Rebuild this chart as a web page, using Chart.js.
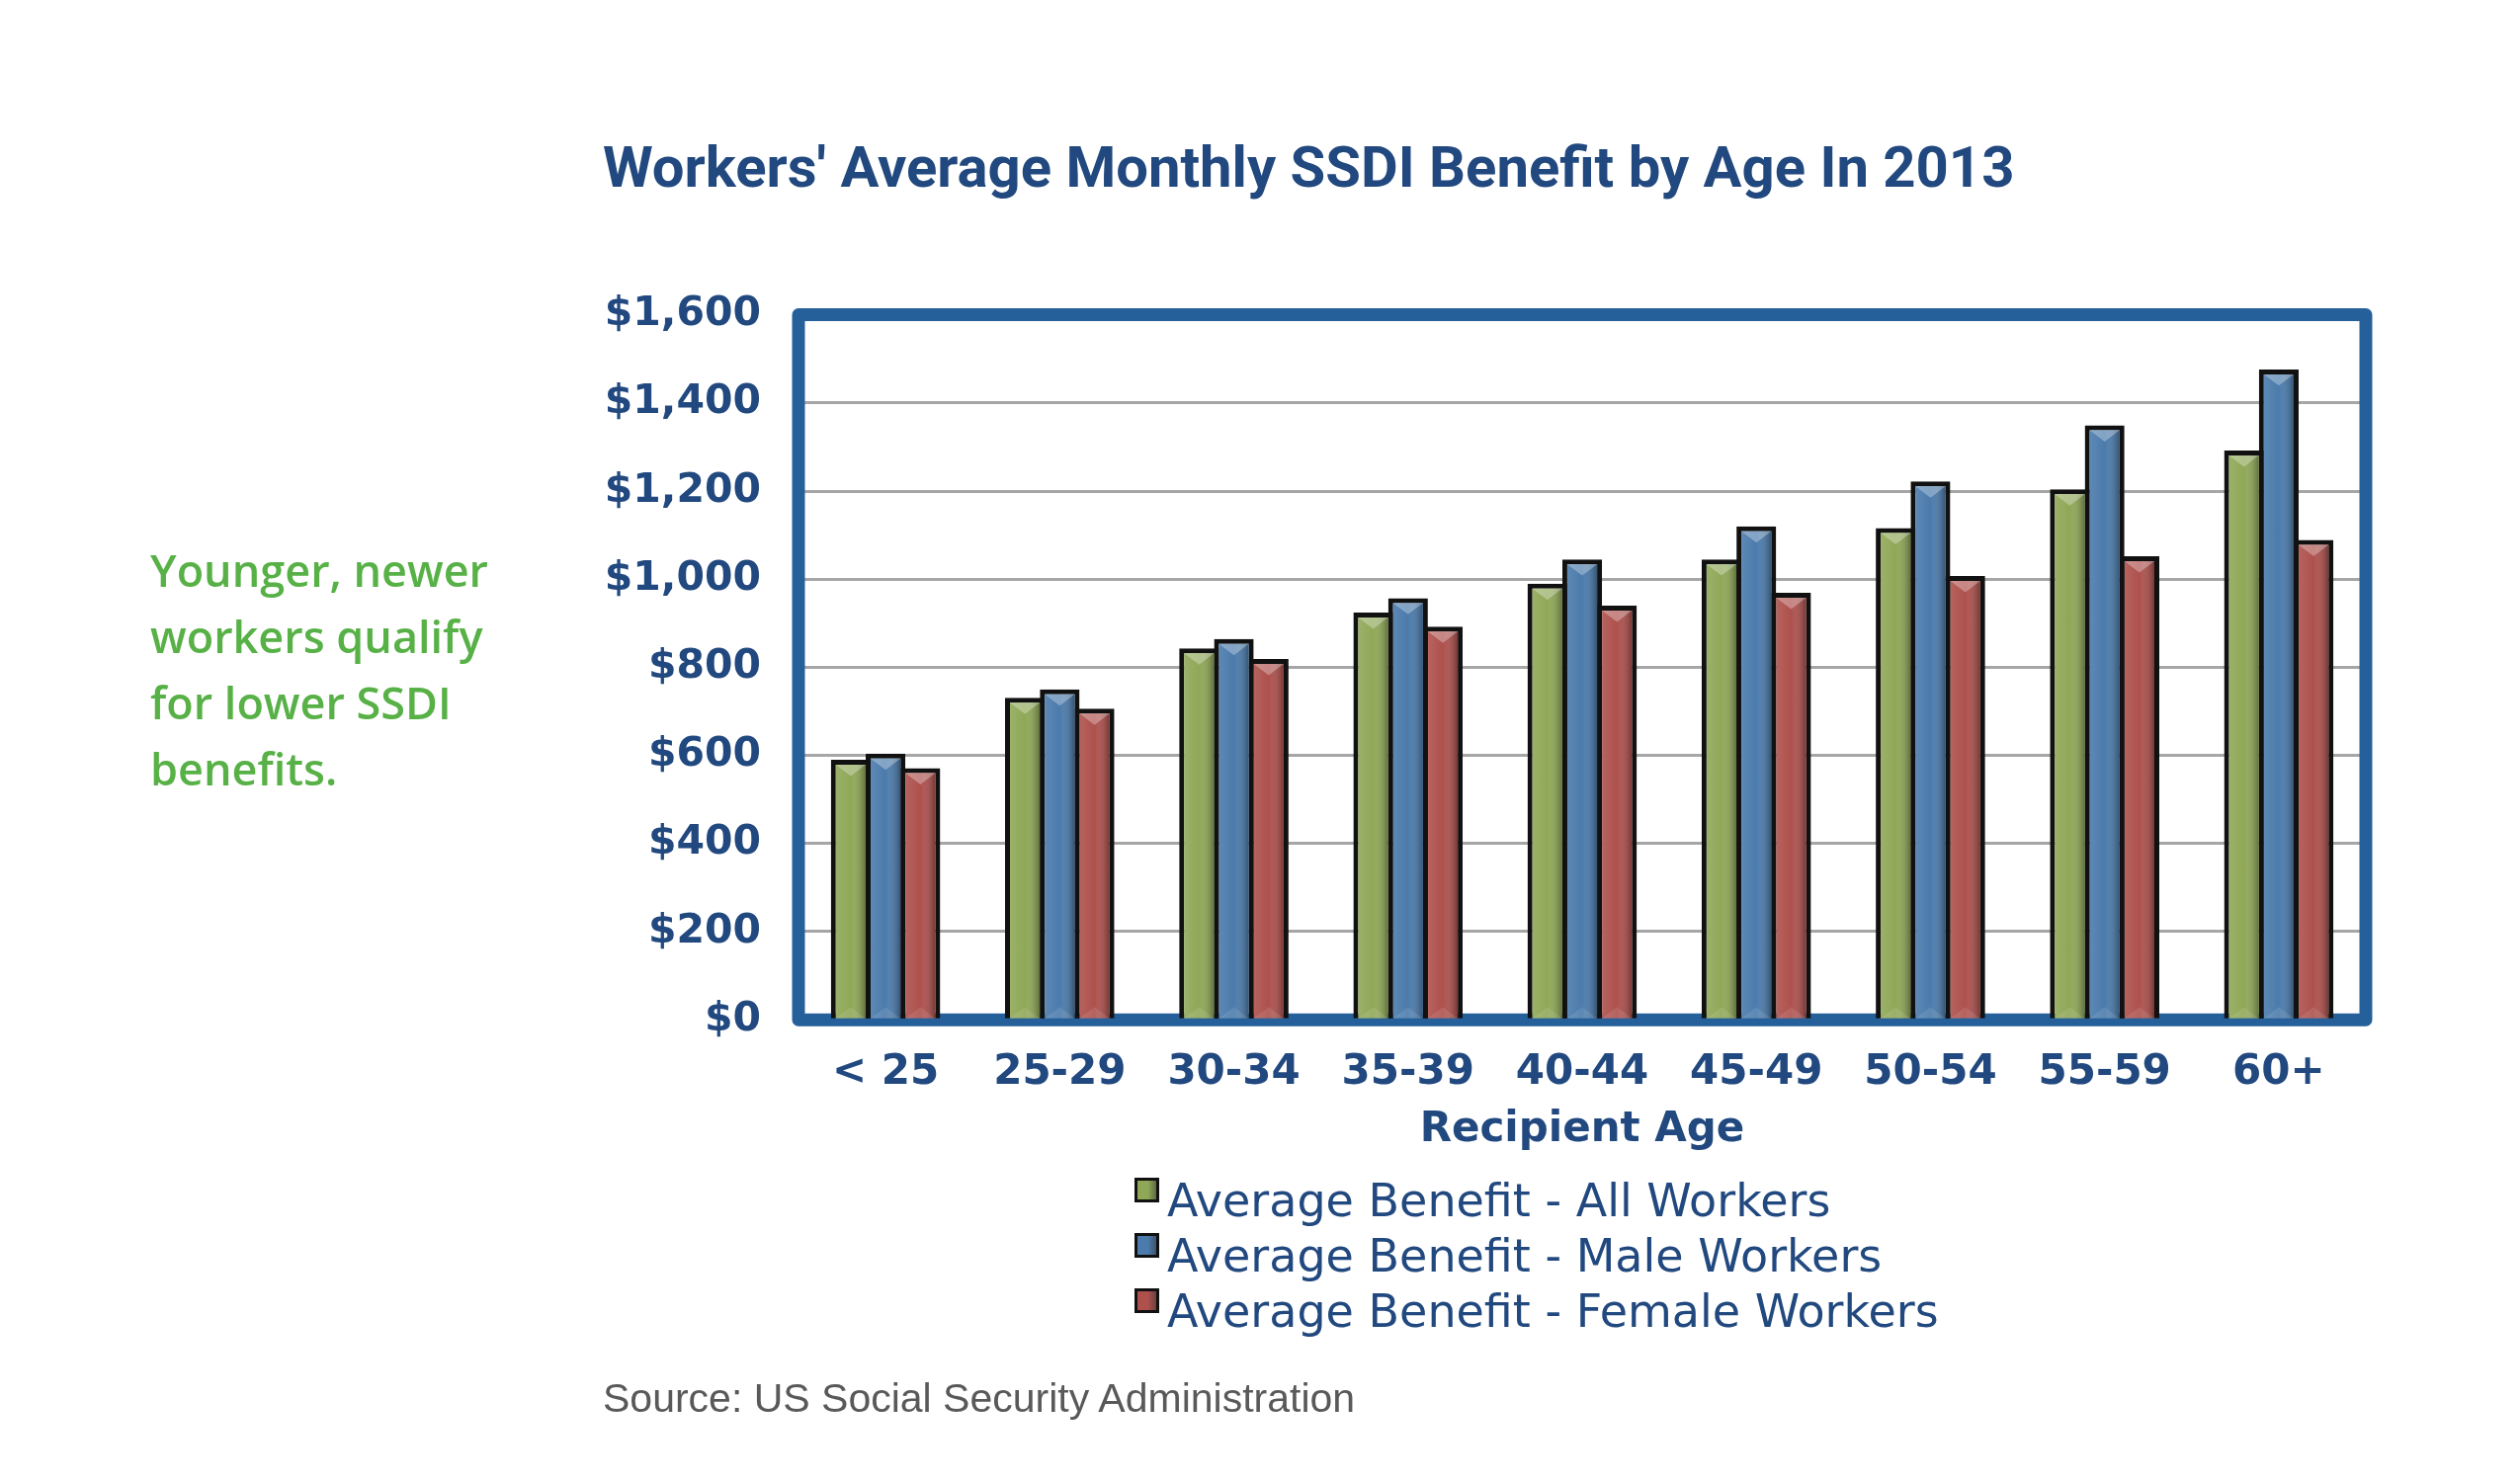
<!DOCTYPE html>
<html>
<head>
<meta charset="utf-8">
<title>Workers' Average Monthly SSDI Benefit by Age In 2013</title>
<script src="https://cdn.jsdelivr.net/npm/chart.js@4.4.1/dist/chart.umd.min.js"></script>
<style>
  html, body { margin: 0; padding: 0; background: #fff; }
  #wrap { position: relative; width: 2550px; height: 1500px; overflow: hidden; }
  #chart { position: absolute; left: 0; top: 0; }
  .note { position: absolute; left: 152px; top: 543px; font: 600 45px/67px "Open Sans"; color: #57B146; }
  #legend { position: absolute; left: 1148px; top: 1187px; font: 46px/56px "DejaVu Sans"; color: #22497F; }
  #legend .row { height: 56px; white-space: nowrap; }
  #legend .swatch { display: inline-block; width: 19px; height: 19px; border: 3px solid #111; margin-right: 8px; position: relative; top: -14px; vertical-align: middle; }
  .source { position: absolute; left: 610px; top: 1390px; font: 41px/50px "Liberation Sans"; color: #595959; }
</style>
</head>
<body>
<div id="wrap">
  <canvas id="chart" width="2550" height="1500"></canvas>
  <div class="note">Younger, newer<br>workers qualify<br>for lower SSDI<br>benefits.</div>
  <div id="legend"></div>
  <div class="source">Source: US Social Security Administration</div>
</div>
<script>
var ageGroups = ["< 25", "25-29", "30-34", "35-39", "40-44", "45-49", "50-54", "55-59", "60+"];
var allWorkers = [590, 731, 843, 924, 990, 1045, 1116, 1204, 1292];
var maleWorkers = [604, 750, 864, 957, 1045, 1120, 1222, 1349, 1476];
var femaleWorkers = [571, 706, 819, 892, 940, 969, 1007, 1052, 1089];
var seriesNames = ["Average Benefit - All Workers", "Average Benefit - Male Workers", "Average Benefit - Female Workers"];
var yMin = 0, yMax = 1600, yStep = 200;

var navy = "#22497F";
var colors = ["#8FA857", "#4B7BAC", "#AE514D"];

// blue frame round the plot area, under the bars
var framePlugin = {
    id: "frame",
    beforeDatasetsDraw: function(chart) {
        var a = chart.chartArea, c = chart.ctx;
        c.save();
        c.strokeStyle = "#26609A";
        c.lineWidth = 13;
        c.lineJoin = "round";
        c.strokeRect(a.left, a.top, a.right - a.left, a.bottom - a.top);
        c.restore();
    }
};

// shading + bevel on each bar, like the office chart style
var bevelPlugin = {
    id: "bevel",
    afterDatasetsDraw: function(chart) {
        var c = chart.ctx, bw = 5;
        c.save();
        chart.data.datasets.forEach(function(ds, i) {
            chart.getDatasetMeta(i).data.forEach(function(bar) {
                var p = bar.getProps(["x", "y", "base", "width"], true);
                var l = p.x - p.width / 2 + bw, r = p.x + p.width / 2 - bw, t = p.y + bw, b = p.base;
                if (r <= l || b <= t) return;
                var g = c.createLinearGradient(l, 0, r, 0);
                g.addColorStop(0, "rgba(255,255,255,0.10)");
                g.addColorStop(0.5, "rgba(255,255,255,0)");
                g.addColorStop(1, "rgba(0,0,0,0.33)");
                c.fillStyle = g;
                c.fillRect(l, t, r - l, b - t);
                var h = (r - l) * 0.38;
                c.beginPath();
                c.moveTo(l, t); c.lineTo(r, t); c.lineTo((l + r) / 2, t + h); c.closePath();
                c.fillStyle = "rgba(255,255,255,0.30)";
                c.fill();
                c.beginPath();
                c.moveTo(l, b); c.lineTo(r, b); c.lineTo((l + r) / 2, b - h); c.closePath();
                c.fillStyle = "rgba(255,255,255,0.10)";
                c.fill();
            });
        });
        c.restore();
    }
};

var ds = function(label, data, color) {
    return {
        label: label,
        data: data,
        backgroundColor: color,
        borderColor: "#111",
        borderWidth: 5,
        barPercentage: 1.14,
        categoryPercentage: 0.6
    };
};

var chart = new Chart(document.getElementById("chart"), {
    type: "bar",
    data: {
        labels: ageGroups,
        datasets: [
            ds(seriesNames[0], allWorkers, colors[0]),
            ds(seriesNames[1], maleWorkers, colors[1]),
            ds(seriesNames[2], femaleWorkers, colors[2])
        ]
    },
    options: {
        responsive: false,
        devicePixelRatio: 1,
        animation: false,
        layout: { padding: { left: 610, right: 156, top: 0, bottom: 331 } },
        plugins: {
            legend: { display: false },
            tooltip: { enabled: false },
            title: {
                display: true,
                text: "Workers' Average Monthly SSDI Benefit by Age In 2013",
                align: "start",
                color: navy,
                font: { family: "Roboto", weight: "bold", size: 58 },
                padding: { top: 140, bottom: 109 }
            }
        },
        scales: {
            x: {
                grid: { display: false, drawTicks: false },
                border: { display: false },
                ticks: { padding: 29, color: navy, font: { family: "DejaVu Sans", weight: "bold", size: 42 } },
                title: {
                    display: true,
                    text: "Recipient Age",
                    color: navy,
                    font: { family: "DejaVu Sans", weight: "bold", size: 42 },
                    padding: { top: -22, bottom: 0 }
                }
            },
            y: {
                min: yMin,
                max: yMax,
                afterFit: function(scale) { scale.width = 198; },
                grid: { color: "#A6A6A6", lineWidth: 3, drawTicks: false },
                border: { display: false },
                ticks: {
                    stepSize: yStep,
                    padding: 38,
                    color: navy,
                    font: { family: "DejaVu Sans", weight: "bold", size: 41 },
                    callback: function(v) { return "$" + v.toLocaleString("en-US"); }
                }
            }
        }
    },
    plugins: [framePlugin, bevelPlugin]
});

// legend stacked in one column, built from the datasets
var legend = document.getElementById("legend");
chart.data.datasets.forEach(function(d) {
    var row = document.createElement("div");
    row.className = "row";
    var sw = document.createElement("span");
    sw.className = "swatch";
    sw.style.background = "linear-gradient(to right, " + d.backgroundColor + " 55%, #333 140%)";
    row.appendChild(sw);
    row.appendChild(document.createTextNode(d.label));
    legend.appendChild(row);
});
</script>
</body>
</html>
